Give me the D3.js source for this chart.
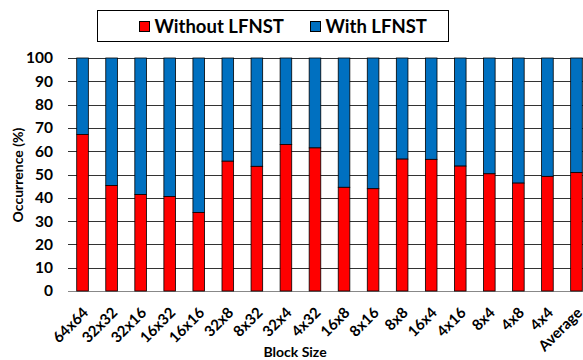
<!DOCTYPE html>
<html>
<head>
<meta charset="utf-8">
<script src="https://cdn.jsdelivr.net/npm/d3@7"></script>
<style>
  body { margin: 0; background: #fff; overflow: hidden; }
  svg { display: block; }
  text { font-family: Lato, "Liberation Sans", Arial, sans-serif; font-weight: bold; }
</style>
</head>
<body>
<svg></svg>
<script>
const blocks = ["64x64","32x32","32x16","16x32","16x16","32x8","8x32","32x4","4x32","16x8","8x16","8x8","16x4","4x16","8x4","4x8","4x4","Average"];
const withoutLfnst = [67.2,45.3,41.4,40.6,33.7,55.7,53.5,62.9,61.4,44.5,43.9,56.6,56.5,53.6,50.3,46.3,49.2,50.8];
const yTicks = [0,10,20,30,40,50,60,70,80,90,100];
const seriesNames = ["Without LFNST", "With LFNST"];
const colors = ["#FF0000", "#0070C0"];

const w = 583, h = 360;
const margin = { top: 58, bottom: 69, left: 68, right: -8 };
const innerWidth = w - margin.left - margin.right;
const innerHeight = h - margin.top - margin.bottom;

const svg = d3.select("svg").attr("width", w).attr("height", h);
const g = svg.append("g").attr("transform", `translate(${margin.left},${margin.top})`);

const x = d3.scaleBand().domain(blocks).range([0, innerWidth]).paddingInner(0.6).paddingOuter(0.3);
const y = d3.scaleLinear().domain([0, 100]).range([innerHeight, 0]);

// gridlines
g.append("g").selectAll("line")
  .data(yTicks)
  .join("line")
  .attr("x1", 0).attr("x2", innerWidth)
  .attr("y1", d => Math.round(y(d)) + 0.5).attr("y2", d => Math.round(y(d)) + 0.5)
  .attr("stroke", d => d === 0 ? "#888" : "#333")
  .attr("stroke-width", 1);

const data = blocks.map((b, i) => ({ block: b, lo: withoutLfnst[i] }));

// with LFNST (top part)
g.append("g").selectAll("rect")
  .data(data)
  .join("rect")
  .attr("x", d => x(d.block))
  .attr("width", x.bandwidth())
  .attr("y", y(100))
  .attr("height", d => y(d.lo) - y(100))
  .attr("fill", colors[1])
  .attr("stroke", "#000").attr("stroke-width", 0.8);

// without LFNST (bottom part)
g.append("g").selectAll("rect")
  .data(data)
  .join("rect")
  .attr("x", d => x(d.block))
  .attr("width", x.bandwidth())
  .attr("y", d => y(d.lo))
  .attr("height", d => y(0) - y(d.lo))
  .attr("fill", colors[0])
  .attr("stroke", "#000").attr("stroke-width", 0.8);

// y axis labels
const yAxis = d3.axisLeft(y).tickValues(yTicks).tickSize(0).tickPadding(15);
g.append("g").call(yAxis)
  .call(a => a.select(".domain").remove())
  .selectAll("text")
  .attr("font-size", 15.5).attr("fill", "#000");

// x axis labels, rotated
const xAxis = d3.axisBottom(x).tickSize(0);
g.append("g").attr("transform", `translate(0,${innerHeight})`).call(xAxis)
  .call(a => a.select(".domain").remove())
  .selectAll("text")
  .attr("font-size", 15).attr("fill", "#000")
  .attr("text-anchor", "end")
  .attr("x", 0).attr("y", 0).attr("dy", "0.35em")
  .attr("transform", "translate(3,19)rotate(-45)");

svg.append("text")
  .attr("x", 295).attr("y", 357)
  .attr("text-anchor", "middle")
  .attr("font-size", 14)
  .text("Block Size");

svg.append("text")
  .attr("transform", "translate(23,175)rotate(-90)")
  .attr("text-anchor", "middle")
  .attr("font-size", 14)
  .text("Occurrence (%)");

// legend
const legend = svg.append("g");
legend.append("rect")
  .attr("x", 97.5).attr("y", 10.5).attr("width", 351).attr("height", 31)
  .attr("fill", "#fff").attr("stroke", "#000").attr("stroke-width", 1);
const legX = [139.5, 310.5];
seriesNames.forEach((s, i) => {
  legend.append("rect")
    .attr("x", legX[i]).attr("y", 21.5).attr("width", 10).attr("height", 10)
    .attr("fill", colors[i]).attr("stroke", "#000").attr("stroke-width", 1);
  legend.append("text")
    .attr("x", legX[i] + 15).attr("y", 33)
    .attr("font-size", 18.5)
    .text(s);
});
</script>
</body>
</html>
